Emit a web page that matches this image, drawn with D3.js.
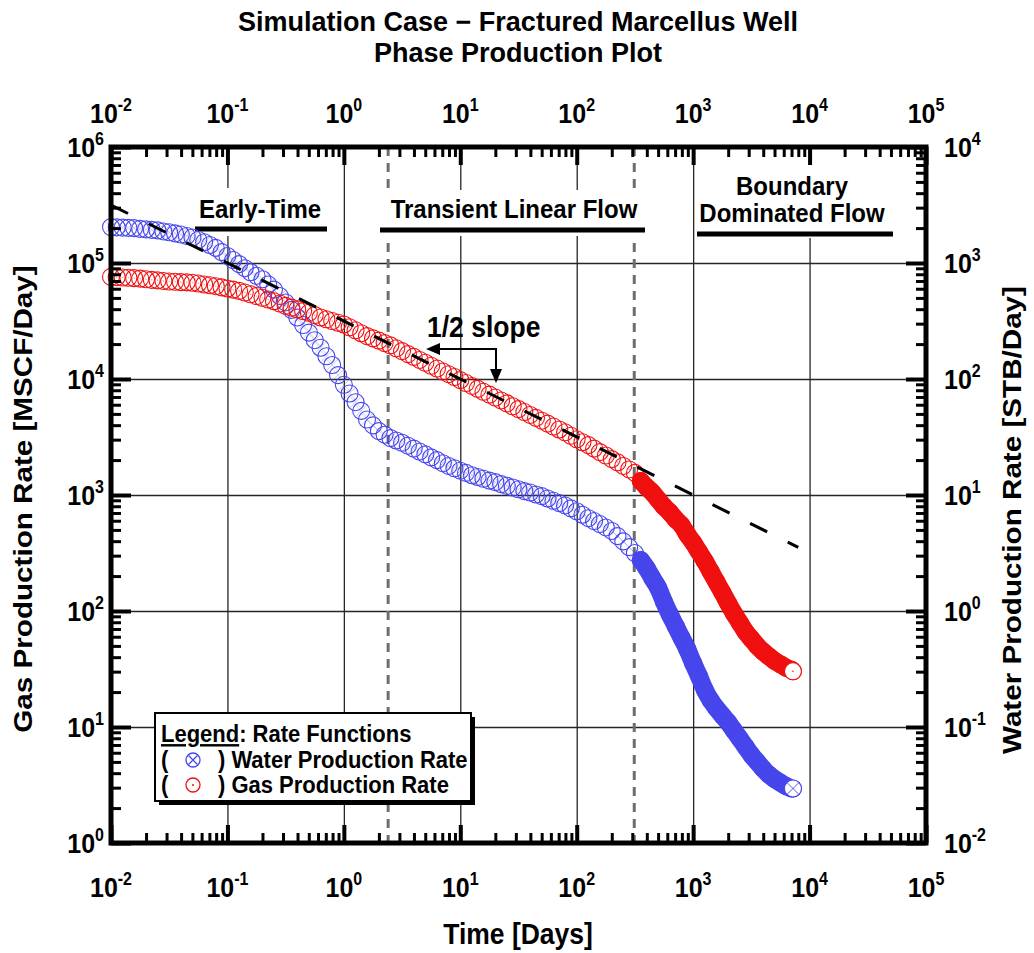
<!DOCTYPE html>
<html>
<head>
<meta charset="utf-8">
<script src="https://cdn.jsdelivr.net/npm/d3@7"></script>
<style>
    body { margin: 0; background: #ffffff; }
    svg { display: block; font-family: Arial, "Liberation Sans", sans-serif; font-weight: bold; }
</style>
</head>
<body>
<svg id="svg" width="1034" height="953"></svg>
<script>
//Data (time in days, gas in MSCF/Day, water in STB/Day)
const TIME_DAYS = [
    0.01, 0.0112, 0.0126, 0.0141, 0.0158, 0.0178, 0.02, 0.0224, 0.0251, 0.0282,
    0.0316, 0.0355, 0.0398, 0.0447, 0.0501, 0.0562, 0.0631, 0.0708, 0.0794, 0.0891,
    0.1, 0.112, 0.126, 0.141, 0.158, 0.178, 0.2, 0.224, 0.251, 0.282,
    0.316, 0.355, 0.398, 0.447, 0.501, 0.562, 0.631, 0.708, 0.794, 0.891,
    1, 1.12, 1.26, 1.41, 1.58, 1.78, 2, 2.24, 2.51, 2.82,
    3.16, 3.55, 3.98, 4.47, 5.01, 5.62, 6.31, 7.08, 7.94, 8.91,
    10, 11.2, 12.6, 14.1, 15.8, 17.8, 20, 22.4, 25.1, 28.2,
    31.6, 35.5, 39.8, 44.7, 50.1, 56.2, 63.1, 70.8, 79.4, 89.1,
    100, 112, 126, 141, 158, 178, 200, 224, 251, 282, 316,
    355, 398, 447, 501, 562, 631, 708, 794, 891, 1000,
    1122, 1259, 1413, 1585, 1778, 1995, 2239, 2512, 2818, 3162,
    3548, 3981, 4467, 5012, 5623, 6310, 7079, 7200
];
const GAS_RATE = [
    75900, 75500, 75000, 74600, 74100, 73300, 72400, 71600, 70800, 70000,
    69200, 68900, 68400, 68100, 67600, 66500, 65300, 64300, 63100, 61700,
    60300, 58900, 57500, 55600, 53700, 51900, 50100, 48400, 46800, 44700,
    42700, 41200, 39800, 38500, 37200, 35500, 33900, 32700, 31600, 30500,
    29500, 27900, 26300, 24800, 23400, 22400, 21400, 20400, 19500, 18400,
    17400, 16400, 15500, 14600, 13800, 13000, 12300, 11600, 11000, 10400,
    9770, 9230, 8710, 8220, 7760, 7330, 6920, 6530, 6170, 5820,
    5500, 5190, 4900, 4620, 4370, 4120, 3890, 3670, 3470, 3240,
    3020, 2850, 2690, 2510, 2340, 2190, 2040, 1910, 1780, 1660, 1550,
    1320, 1170, 1050, 912, 794, 708, 617, 550, 457, 389,
    324, 269, 219, 178, 145, 117, 95.5, 79.4, 66.1, 57.5,
    50.1, 44.7, 40.7, 37.2, 34.7, 32.4, 30.9, 30.2
];
const WATER_RATE = [
    2040, 2030, 2020, 2010, 2000, 1970, 1950, 1930, 1910, 1870,
    1840, 1800, 1760, 1710, 1660, 1580, 1510, 1430, 1350, 1240,
    1150, 1060, 977, 902, 832, 776, 724, 653, 589, 519,
    457, 394, 339, 292, 251, 216, 186, 157, 132, 108,
    89.1, 75.0, 63.1, 53.1, 44.7, 39.8, 35.5, 33.1, 30.9, 29.5,
    28.2, 26.6, 25.1, 23.7, 22.4, 21.1, 20.0, 18.8, 17.8, 17.0,
    16.2, 15.5, 14.8, 14.3, 13.8, 13.3, 12.9, 12.4, 12.0, 11.6,
    11.2, 10.8, 10.5, 10.1, 9.77, 9.33, 8.91, 8.51, 8.13, 7.67,
    7.24, 6.76, 6.31, 5.96, 5.62, 5.25, 4.90, 4.42, 3.98, 3.55, 3.16,
    2.75, 2.34, 1.91, 1.58, 1.20, 0.933, 0.741, 0.589, 0.468, 0.355,
    0.275, 0.209, 0.170, 0.145, 0.126, 0.110, 0.0933, 0.0794, 0.0676, 0.0575,
    0.0501, 0.0437, 0.0389, 0.0355, 0.0331, 0.0309, 0.0295, 0.0295
];
const HALF_SLOPE_TIME = [0.01, 8000];
const HALF_SLOPE_RATE = [316000, 354];
const FLOW_BOUNDARY_DAYS = [2.4, 312];
const X_EXPONENTS = [-2, -1, 0, 1, 2, 3, 4, 5];
const GAS_EXPONENTS = [0, 1, 2, 3, 4, 5, 6];
const WATER_EXPONENTS = [-2, -1, 0, 1, 2, 3, 4];
const MINOR_STEPS = [2, 3, 4, 5, 6, 7, 8, 9];
const TITLE_LINES = ["Simulation Case \u2212 Fractured Marcellus Well", "Phase Production Plot"];
const X_LABEL = "Time [Days]";
const GAS_LABEL = "Gas Production Rate [MSCF/Day]";
const WATER_LABEL = "Water Production Rate [STB/Day]";
const LEGEND_TITLE = "Legend";
const LEGEND_SUBTITLE = ": Rate Functions";
const WATER_NAME = "Water Production Rate";
const GAS_NAME = "Gas Production Rate";

//Layout and style
const LEFT = 111, RIGHT = 926, TOP = 147, BOTTOM = 843;
const RED = "#f01010";
const BLUE = "#4646ec";
const MARKER_R = 8.5;
const SOLID_START_DAY = 350;
const TEXT_STRETCH = 1.1;

const SVG = d3.select("#svg");

const X_SCALE = d3.scaleLog().domain([1e-2, 1e5]).range([LEFT, RIGHT]);
const GAS_SCALE = d3.scaleLog().domain([1, 1e6]).range([BOTTOM, TOP]);
const WATER_SCALE = d3.scaleLog().domain([1e-2, 1e4]).range([BOTTOM, TOP]);

window.addEventListener("load", main);

function main()
{
    drawGrid();
    drawRegionLabels();
    drawSeries(WATER_RATE, WATER_SCALE, BLUE, true);
    drawSeries(GAS_RATE, GAS_SCALE, RED, false);
    drawHalfSlope();
    drawLegend();
    drawFrame();
    drawTickLabels();
    drawTitles();
}

//Text that is slightly taller than the font, like the original figure
function addText(parent, x, y, str, size, anchor, stretch = TEXT_STRETCH)
{
    return parent.append("text")
        .attr("transform", "translate(" + x + "," + y + ") scale(1," + stretch + ")")
        .attr("text-anchor", anchor)
        .attr("font-size", size)
        .text(str);
}

function minorValues(exponents)
{
    let out = [];
    exponents.slice(0, -1).forEach(e => MINOR_STEPS.forEach(m => out.push(m * Math.pow(10, e))));
    return out;
}

function decades(exponents) { return exponents.map(e => Math.pow(10, e)); }

function drawGrid()
{
    let g = SVG.append("g");
    let innerX = decades(X_EXPONENTS).slice(1, -1);
    let innerY = decades(GAS_EXPONENTS).slice(1, -1);

    g.append("g").attr("transform", "translate(0," + BOTTOM + ")")
        .call(d3.axisBottom(X_SCALE).tickValues(innerX).tickSize(-(BOTTOM - TOP)).tickFormat(""));
    g.append("g").attr("transform", "translate(" + LEFT + ",0)")
        .call(d3.axisLeft(GAS_SCALE).tickValues(innerY).tickSize(-(RIGHT - LEFT)).tickFormat(""));
    g.selectAll(".domain").remove();
    g.selectAll("line").attr("stroke", "#262626").attr("stroke-width", 1.3);

    //Flow regime boundaries
    SVG.append("g").selectAll("line")
        .data(FLOW_BOUNDARY_DAYS)
        .enter().append("line")
        .attr("x1", d => X_SCALE(d)).attr("x2", d => X_SCALE(d))
        .attr("y1", TOP).attr("y2", BOTTOM)
        .attr("stroke", "#6e6e6e")
        .attr("stroke-width", 3)
        .attr("stroke-dasharray", "9,7");
}

function drawRegionLabels()
{
    let g = SVG.append("g");
    //White boxes hide grid behind the labels
    g.append("rect").attr("x", 195).attr("y", 188).attr("width", 133).attr("height", 48).attr("fill", "#fff");
    g.append("rect").attr("x", 380).attr("y", 190).attr("width", 266).attr("height", 46).attr("fill", "#fff");
    g.append("rect").attr("x", 697).attr("y", 150).attr("width", 197).attr("height", 88).attr("fill", "#fff");

    addText(g, 260, 218, "Early-Time", 24, "middle");
    addText(g, 514, 218, "Transient Linear Flow", 24, "middle");
    addText(g, 792, 195, "Boundary", 24, "middle");
    addText(g, 792, 222, "Dominated Flow", 24, "middle");

    [[195, 327, 229], [380, 645, 230], [697, 893, 234]].forEach(b => {
        g.append("line").attr("x1", b[0]).attr("x2", b[1]).attr("y1", b[2]).attr("y2", b[2])
            .attr("stroke", "#000").attr("stroke-width", 5);
    });
}

function drawSeries(rates, yScale, color, isWater)
{
    let g = SVG.append("g");
    let points = TIME_DAYS.map((t, i) => ({ t: t, q: rates[i] }));
    let late = points.filter(p => p.t >= SOLID_START_DAY);

    //Dense late-time markers merge into a solid band
    g.append("path")
        .datum(late)
        .attr("d", d3.line().x(p => X_SCALE(p.t)).y(p => yScale(p.q)).curve(d3.curveMonotoneX))
        .attr("fill", "none")
        .attr("stroke", color)
        .attr("stroke-width", MARKER_R * 2 + 1)
        .attr("stroke-linecap", "round");

    let last = points.length - 1;
    let marks = g.selectAll("g.mark")
        .data(points)
        .enter().append("g")
        .attr("class", "mark")
        .attr("transform", p => "translate(" + X_SCALE(p.t) + "," + yScale(p.q) + ")");

    marks.append("circle")
        .attr("r", MARKER_R)
        .attr("fill", (p, i) => i === last ? "#fff" : "none")
        .attr("stroke", color)
        .attr("stroke-width", 1.1);

    if (isWater)
    {
        let k = MARKER_R * 0.68;
        marks.append("path")
            .attr("d", "M" + (-k) + "," + (-k) + "L" + k + "," + k + "M" + (-k) + "," + k + "L" + k + "," + (-k))
            .attr("stroke", color)
            .attr("stroke-width", 0.9)
            .attr("opacity", (p, i) => i === last ? 1 : 0.3);
    }
    else
    {
        marks.append("circle").attr("r", 0.8).attr("fill", color).attr("opacity", (p, i) => i === last ? 1 : 0.4);
    }
}

function drawHalfSlope()
{
    let pts = HALF_SLOPE_TIME.map((t, i) => [X_SCALE(t), GAS_SCALE(HALF_SLOPE_RATE[i])]);
    SVG.append("path")
        .attr("d", d3.line()(pts))
        .attr("stroke", "#000")
        .attr("stroke-width", 3)
        .attr("stroke-dasharray", "19,23")
        .attr("fill", "none");

    //Annotation
    addText(SVG, 427, 337, "1/2 slope", 26.5, "start");
    SVG.append("path")
        .attr("d", "M437,349 L496,349 L496,372")
        .attr("stroke", "#000").attr("stroke-width", 2).attr("fill", "none");
    SVG.append("path").attr("d", "M426,349 L440,343 L440,355 Z").attr("fill", "#000");
    SVG.append("path").attr("d", "M496,383 L490,369 L502,369 Z").attr("fill", "#000");
}

function drawLegend()
{
    let g = SVG.append("g");
    g.append("rect").attr("x", 159).attr("y", 717).attr("width", 316).attr("height", 88).attr("fill", "#000");
    g.append("rect").attr("x", 155).attr("y", 713).attr("width", 316).attr("height", 88)
        .attr("fill", "#fff").attr("stroke", "#000").attr("stroke-width", 2);

    let title = addText(g, 161, 742, "", 22, "start");
    title.append("tspan").attr("text-decoration", "underline").text(LEGEND_TITLE);
    title.append("tspan").text(LEGEND_SUBTITLE);

    [[WATER_NAME, 768, BLUE, true], [GAS_NAME, 793, RED, false]].forEach(row => {
        addText(g, 161, row[1], "(", 22, "start");
        addText(g, 218, row[1], ") " + row[0], 22, "start");
        let cy = row[1] - 8;
        g.append("circle").attr("cx", 193).attr("cy", cy).attr("r", 7)
            .attr("fill", "none").attr("stroke", row[2]).attr("stroke-width", 1.3);
        if (row[3])
        {
            g.append("path").attr("d", "M188.5," + (cy - 4.5) + "l9,9M188.5," + (cy + 4.5) + "l9,-9")
                .attr("stroke", row[2]).attr("stroke-width", 1.3);
        }
        else
        {
            g.append("circle").attr("cx", 193).attr("cy", cy).attr("r", 1).attr("fill", row[2]);
        }
    });
}

function tickAxis(axis, transform, values, size, width)
{
    let g = SVG.append("g").attr("transform", transform)
        .call(axis.tickValues(values).tickSize(-size).tickFormat(""));
    g.select(".domain").remove();
    g.selectAll("line").attr("stroke", "#000").attr("stroke-width", width);
}

function drawFrame()
{
    let xMinor = minorValues(X_EXPONENTS);
    let yMinor = minorValues(GAS_EXPONENTS);
    let wMinor = minorValues(WATER_EXPONENTS);
    let xMajor = decades(X_EXPONENTS);
    let yMajor = decades(GAS_EXPONENTS);
    let wMajor = decades(WATER_EXPONENTS);

    tickAxis(d3.axisBottom(X_SCALE), "translate(0," + BOTTOM + ")", xMinor, 10, 3);
    tickAxis(d3.axisBottom(X_SCALE), "translate(0," + BOTTOM + ")", xMajor, 18, 4);
    tickAxis(d3.axisTop(X_SCALE), "translate(0," + TOP + ")", xMinor, 10, 3);
    tickAxis(d3.axisTop(X_SCALE), "translate(0," + TOP + ")", xMajor, 18, 4);
    tickAxis(d3.axisLeft(GAS_SCALE), "translate(" + LEFT + ",0)", yMinor, 10, 3);
    tickAxis(d3.axisLeft(GAS_SCALE), "translate(" + LEFT + ",0)", yMajor, 20, 4);
    tickAxis(d3.axisRight(WATER_SCALE), "translate(" + RIGHT + ",0)", wMinor, 10, 3);
    tickAxis(d3.axisRight(WATER_SCALE), "translate(" + RIGHT + ",0)", wMajor, 20, 4);

    SVG.append("rect")
        .attr("x", LEFT).attr("y", TOP)
        .attr("width", RIGHT - LEFT).attr("height", BOTTOM - TOP)
        .attr("fill", "none").attr("stroke", "#000").attr("stroke-width", 5);
}

function powerLabel(x, y, exponent, anchor)
{
    let t = addText(SVG, x, y, "", 25, anchor);
    t.append("tspan").text("10");
    t.append("tspan").attr("font-size", 16).attr("dy", -11).text(exponent);
}

function drawTickLabels()
{
    X_EXPONENTS.forEach(e => {
        powerLabel(X_SCALE(Math.pow(10, e)), 897, e, "middle");
        powerLabel(X_SCALE(Math.pow(10, e)), 123, e, "middle");
    });
    GAS_EXPONENTS.forEach(e => powerLabel(104, GAS_SCALE(Math.pow(10, e)) + 10, e, "end"));
    WATER_EXPONENTS.forEach(e => powerLabel(944, WATER_SCALE(Math.pow(10, e)) + 10, e, "start"));
}

function drawTitles()
{
    addText(SVG, 518, 31, TITLE_LINES[0], 27, "middle", 1);
    addText(SVG, 518, 62, TITLE_LINES[1], 27, "middle", 1);
    addText(SVG, 518, 944, X_LABEL, 26.5, "middle");
    SVG.append("text").attr("transform", "translate(32,499) rotate(-90) scale(1.14,1)")
        .attr("text-anchor", "middle").attr("font-size", 26).text(GAS_LABEL);
    SVG.append("text").attr("transform", "translate(1021,520) rotate(-90) scale(1.14,1)")
        .attr("text-anchor", "middle").attr("font-size", 26).text(WATER_LABEL);
}
</script>
</body>
</html>
